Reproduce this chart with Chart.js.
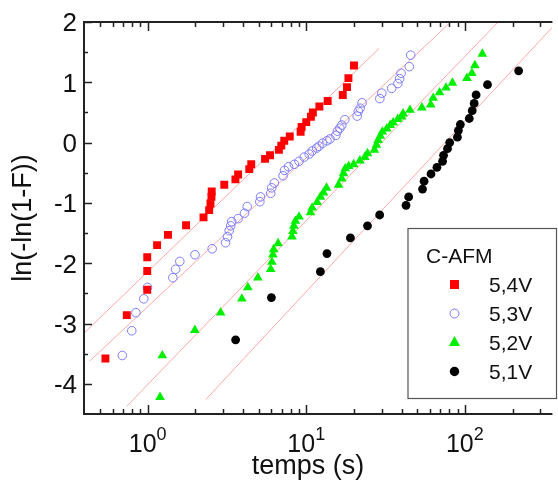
<!DOCTYPE html>
<html lang="fr">
<head>
<meta charset="UTF-8">
<title>C-AFM Weibull</title>
<script src="https://cdn.jsdelivr.net/npm/chart.js"></script>
<style>
  body { margin: 0; background: #ffffff; }
  #wrap { width: 558px; height: 486px; }
</style>
</head>
<body>
<div id="wrap"><canvas id="c" width="558" height="486"></canvas></div>
<script>
// time (s) and ln(-ln(1-F)) for each voltage
const t54 = [0.541,0.738,0.993,0.993,0.993,1.146,1.342,1.745,2.249,2.441,2.487,2.523,2.533,3.040,3.575,3.717,4.370,4.498,5.499,5.906,6.722,6.958,7.263,7.870,9.215,9.348,10.0,10.70,11.01,12.10,13.65,17.00,18.08,18.45,20.00];
const y54 = [-3.58,-2.86,-2.44,-2.13,-1.90,-1.70,-1.53,-1.37,-1.24,-1.12,-1.01,-0.90,-0.81,-0.70,-0.61,-0.53,-0.44,-0.36,-0.27,-0.21,-0.12,-0.05,0.03,0.10,0.18,0.26,0.34,0.43,0.50,0.60,0.69,0.79,0.92,1.07,1.28];

const t53 = [0.691,0.793,0.842,0.944,0.996,1.441,1.499,1.594,1.986,2.548,3.097,3.187,3.266,3.337,3.385,3.717,4.079,4.240,5.095,5.147,5.967,6.053,6.292,7.140,7.295,7.726,8.418,9.005,9.716,10.44,10.90,11.63,12.05,12.67,13.51,14.11,15.38,15.72,16.29,16.76,17.50,20.95,21.30,21.86,22.49,29.12,29.97,34.59,37.82,38.81,39.65,44.66,45.57];
const y53 = [-3.53,-3.12,-2.82,-2.59,-2.40,-2.24,-2.10,-1.97,-1.86,-1.76,-1.66,-1.56,-1.46,-1.38,-1.31,-1.26,-1.17,-1.06,-0.98,-0.90,-0.84,-0.75,-0.67,-0.55,-0.46,-0.40,-0.36,-0.31,-0.24,-0.19,-0.14,-0.09,-0.06,-0.01,0.03,0.06,0.12,0.19,0.24,0.29,0.38,0.44,0.52,0.57,0.66,0.73,0.82,0.90,0.98,1.06,1.15,1.26,1.45];

const t52 = [1.196,1.236,1.983,2.883,3.925,4.278,4.952,5.967,6.071,6.158,6.229,6.644,8.123,8.240,8.359,8.542,9.005,10.64,10.90,11.71,12.28,12.85,13.42,15.99,16.76,17.18,17.62,18.53,19.91,21.79,23.42,24.34,26.91,27.70,28.38,29.33,30.19,32.19,33.85,35.34,37.82,39.93,40.80,45.11,53.58,60.95,63.18,69.36,76.13,83.57,103.2,110.9,115.8,129.1];
const y52 = [-4.22,-3.53,-3.11,-2.82,-2.59,-2.40,-2.24,-2.10,-1.98,-1.86,-1.77,-1.67,-1.56,-1.47,-1.38,-1.30,-1.23,-1.16,-1.08,-0.99,-0.90,-0.83,-0.75,-0.70,-0.60,-0.51,-0.43,-0.39,-0.36,-0.30,-0.24,-0.18,-0.12,-0.04,0.04,0.11,0.18,0.23,0.29,0.33,0.39,0.43,0.48,0.54,0.58,0.63,0.74,0.83,0.91,0.99,1.07,1.15,1.28,1.47];

const t51 = [3.585,6.028,12.28,13.51,18.99,24.34,29.04,42.59,44.27,54.12,55.38,61.22,66.73,72.42,73.46,77.80,80.30,89.82,91.11,93.76,106.7,111.4,114.6,117.9,139.1,218.6];
const y51 = [-3.27,-2.57,-2.14,-1.84,-1.58,-1.38,-1.20,-1.04,-0.90,-0.77,-0.64,-0.52,-0.41,-0.31,-0.21,-0.10,0.00,0.09,0.20,0.30,0.40,0.53,0.65,0.79,0.96,1.19];

// straight fit lines (end points)
const fit54T = [0.3963, 28.79], fit54Y = [-3.16, 1.56];
const fit53T = [0.432, 80.06],  fit53Y = [-3.62, 1.98];
const fit52T = [0.738, 162.4],  fit52Y = [-4.37, 2.0];
const fit51T = [2.324, 355.9],  fit51Y = [-4.26, 1.91];

const labels = ['5,4V', '5,3V', '5,2V', '5,1V'];
const xMajor = [1, 10, 100];
const xMinor = [0.5,0.6,0.7,0.8,0.9,2,3,4,5,6,7,8,9,20,30,40,50,60,70,80,90,200,300];
const yMajor = [-4,-3,-2,-1,0,1,2];
const yMinor = [-3.5,-2.5,-1.5,-0.5,0.5,1.5];

const pts = (t, y) => t.map((v, i) => ({ x: v, y: y[i] }));
const FONT = '"Liberation Sans", Arial, sans-serif';
const fitColor = '#ffa8a8';

function fitSet(t, y) {
  return { data: pts(t, y), showLine: true, borderColor: fitColor, borderWidth: 1,
           pointRadius: 0, order: 10 };
}

const frame = {
  id: 'frame',
  afterDraw(chart) {
    const ctx = chart.ctx, a = chart.chartArea, xs = chart.scales.x, ys = chart.scales.y;
    ctx.save();
    ctx.strokeStyle = '#222';
    ctx.lineWidth = 2;
    ctx.beginPath();
    ctx.moveTo(a.left, a.top); ctx.lineTo(a.right, a.top);
    ctx.moveTo(a.left, a.top - 1); ctx.lineTo(a.left, a.bottom + 1);
    ctx.moveTo(a.left, a.bottom); ctx.lineTo(a.right, a.bottom);
    ctx.stroke();

    // ticks, pointing inwards
    ctx.lineWidth = 1.5;
    ctx.beginPath();
    const xt = (v, len) => {
      const px = Math.round(xs.getPixelForValue(v)) + 0.5;
      ctx.moveTo(px, a.bottom); ctx.lineTo(px, a.bottom - len);
      ctx.moveTo(px, a.top); ctx.lineTo(px, a.top + len);
    };
    xMajor.forEach(v => xt(v, 9));
    xMinor.forEach(v => xt(v, 5));
    const yt = (v, len) => {
      const py = Math.round(ys.getPixelForValue(v)) + 0.5;
      ctx.moveTo(a.left, py); ctx.lineTo(a.left + len, py);
    };
    yMajor.forEach(v => yt(v, 8));
    yMinor.forEach(v => yt(v, 4));
    ctx.stroke();

    // y tick labels
    ctx.fillStyle = '#111';
    ctx.font = '26px ' + FONT;
    ctx.textAlign = 'right';
    ctx.textBaseline = 'alphabetic';
    yMajor.forEach(v => ctx.fillText(String(v), 77, ys.getPixelForValue(v) + 9.3));

    // x tick labels 10^n
    ctx.textAlign = 'left';
    xMajor.forEach(v => {
      const e = String(Math.round(Math.log10(v)));
      ctx.font = '25px ' + FONT;
      const w1 = ctx.measureText('10').width;
      ctx.font = '18px ' + FONT;
      const w2 = ctx.measureText(e).width;
      const x0 = xs.getPixelForValue(v) - (w1 + w2) / 2;
      ctx.font = '25px ' + FONT;
      ctx.fillText('10', x0, 452);
      ctx.font = '18px ' + FONT;
      ctx.fillText(e, x0 + w1, 440);
    });

    // axis titles
    ctx.font = '27px ' + FONT;
    ctx.textAlign = 'center';
    ctx.fillText('temps (s)', 308, 474);
    ctx.save();
    ctx.translate(24, (a.top + a.bottom) / 2);
    ctx.rotate(-Math.PI / 2);
    ctx.textBaseline = 'middle';
    ctx.fillText('ln(-ln(1-F))', 0, 0);
    ctx.restore();

    // legend box
    ctx.fillStyle = '#fff';
    ctx.fillRect(408, 228, 149, 170);
    ctx.strokeStyle = '#555';
    ctx.lineWidth = 1.2;
    ctx.strokeRect(408, 228.5, 148.5, 170);
    ctx.fillStyle = '#111';
    ctx.textAlign = 'left';
    ctx.textBaseline = 'alphabetic';
    ctx.font = '21px ' + FONT;
    ctx.fillText('C-AFM', 426, 263);
    const rows = [284.5, 313.5, 342, 371.5];
    rows.forEach((ry, i) => {
      const mx = 454.5;
      ctx.beginPath();
      if (i === 0) {
        ctx.fillStyle = '#ff0000';
        ctx.fillRect(mx - 4.5, ry - 4.5, 9, 9);
      } else if (i === 1) {
        ctx.strokeStyle = '#7c7cff';
        ctx.lineWidth = 1;
        ctx.arc(mx, ry, 4.5, 0, Math.PI * 2);
        ctx.stroke();
      } else if (i === 2) {
        ctx.fillStyle = '#00ee00';
        ctx.moveTo(mx, ry - 6); ctx.lineTo(mx + 5.5, ry + 4); ctx.lineTo(mx - 5.5, ry + 4);
        ctx.closePath(); ctx.fill();
      } else {
        ctx.fillStyle = '#000';
        ctx.arc(mx, ry, 4.7, 0, Math.PI * 2);
        ctx.fill();
      }
      ctx.fillStyle = '#111';
      ctx.fillText(labels[i], 489, ry + 7.5);
    });
    ctx.restore();
  }
};

new Chart(document.getElementById('c'), {
  type: 'scatter',
  data: {
    datasets: [
      { label: labels[0], data: pts(t54, y54), pointStyle: 'rect', pointRadius: 5.6,
        backgroundColor: '#ff0000', borderColor: '#ff0000', borderWidth: 0, order: 1 },
      { label: labels[1], data: pts(t53, y53), pointStyle: 'circle', pointRadius: 4.3,
        backgroundColor: 'rgba(0,0,0,0)', borderColor: '#7c7cff', borderWidth: 1, order: 2 },
      { label: labels[2], data: pts(t52, y52), pointStyle: 'triangle', pointRadius: 5.6,
        backgroundColor: '#00ee00', borderColor: '#00ee00', borderWidth: 0, order: 3 },
      { label: labels[3], data: pts(t51, y51), pointStyle: 'circle', pointRadius: 4.4,
        backgroundColor: '#000000', borderColor: '#000000', borderWidth: 0, order: 4 },
      fitSet(fit54T, fit54Y),
      fitSet(fit53T, fit53Y),
      fitSet(fit52T, fit52Y),
      fitSet(fit51T, fit51Y)
    ]
  },
  options: {
    responsive: false,
    animation: false,
    layout: { padding: { left: 84, right: 0, top: 22, bottom: 72 } },
    plugins: { legend: { display: false }, tooltip: { enabled: false } },
    scales: {
      x: { type: 'logarithmic', min: 0.3963, max: 357, display: false },
      y: { type: 'linear', min: -4.5, max: 2, display: false }
    }
  },
  plugins: [frame]
});
</script>
</body>
</html>
